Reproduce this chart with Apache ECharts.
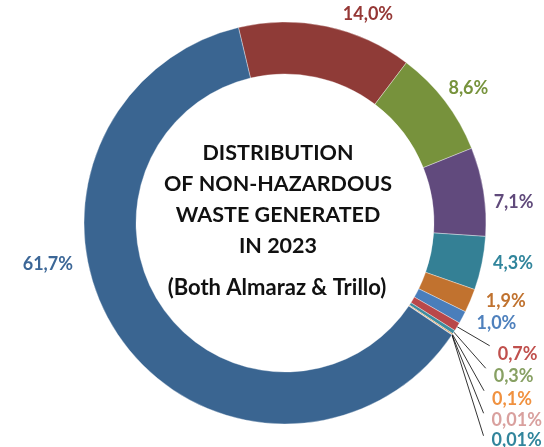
<!DOCTYPE html>
<html>
<head>
<meta charset="utf-8">
<script src="https://cdn.jsdelivr.net/npm/echarts@6/dist/echarts.min.js"></script>
<style>
  html, body { margin: 0; padding: 0; background: #fff; }
  #main { width: 544px; height: 447px; }
</style>
</head>
<body>
<div id="main"></div>
<script>
// shares in %, clockwise starting with the red slice at the top
const categories = ['Type 1', 'Type 2', 'Type 3', 'Type 4', 'Type 5', 'Type 6',
  'Type 7', 'Type 8', 'Type 9', 'Type 10', 'Type 11', 'Type 12'];
const values = [14.0, 8.6, 7.1, 4.3, 1.9, 1.0, 0.7, 0.3, 0.1, 0.01, 0.01, 61.7];

const sliceColors = ['#8f3b37', '#77923c', '#614a7d', '#348095', '#c1722f', '#4a7ebb',
  '#b9484a', '#3d8da0', '#e08a3c', '#d79896', '#348095', '#3a6591'];
const labelColors = ['#953735', '#77933c', '#604a7b', '#31859c', '#c0722f', '#4f81bd',
  '#c0504d', '#87a063', '#f0913f', '#d9a09e', '#31859c', '#3c6797'];

// label line tuning per slice: [length, length2, line shown, label gap, vertical nudge]
const leader = [[12, 9, false, 5, 0], [21, -9, false, 5, 0], [2, 8, false, 5, 11],
  [2, 8, false, 5, 0], [2, 9, false, 5, 0], [8, 2, false, 5, 0],
  [38, 0, true, 8, 8], [38, 0, true, 8, 8], [38, 0, true, 8, 8],
  [38, 0, true, 8, 7], [38, 0, true, 8, 4], [0, 0, false, 5, 0]];

const cx = 285, cy = 223, r0 = 149, r1 = 201;

function fmt(v) {
  return (v < 0.1 ? v.toFixed(2) : v.toFixed(1)).replace('.', ',') + '%';
}

const chart = echarts.init(document.getElementById('main'));

chart.setOption({
  animation: false,
  title: [{
    text: 'DISTRIBUTION\nOF NON-HAZARDOUS\nWASTE GENERATED\nIN 2023',
    left: 278,
    top: 138,
    textAlign: 'center',
    padding: 0,
    textStyle: {
      fontFamily: 'Lato',
      fontWeight: 'bold',
      fontSize: 21.5,
      lineHeight: 31,
      color: '#111'
    }
  }, {
    text: '(Both Almaraz & Trillo)',
    left: 277,
    top: 277,
    textAlign: 'center',
    padding: 0,
    textStyle: {
      fontFamily: 'Lato',
      fontWeight: 'bold',
      fontSize: 22,
      color: '#111'
    }
  }],
  series: [{
    type: 'pie',
    center: [cx, cy],
    radius: [r0, r1],
    startAngle: 103.4,
    clockwise: true,
    avoidLabelOverlap: true,
    itemStyle: { borderColor: 'rgba(255,255,255,0.6)', borderWidth: 0.6 },
    label: {
      position: 'outside',
      fontFamily: 'Lato',
      fontWeight: 'bold',
      fontSize: 18,
      lineHeight: 20.5,
      overflow: 'none',
      formatter: p => fmt(p.value)
    },
    labelLine: { lineStyle: { color: '#000', width: 0.8 } },
    labelLayout: p => {
      const i = p.dataIndex;
      if (i === values.length - 1) {
        return { x: cx - r1 - 11, y: cy + 41, align: 'right', verticalAlign: 'middle' };
      }
      return leader[i][4] ? { dy: leader[i][4] } : {};
    },
    emphasis: { disabled: true },
    data: values.map((v, i) => ({
      name: categories[i],
      value: v,
      itemStyle: { color: sliceColors[i] },
      label: {
        color: labelColors[i],
        alignTo: leader[i][2] ? 'labelLine' : 'none',
        distanceToLabelLine: leader[i][3]
      },
      labelLine: {
        show: leader[i][2],
        length: leader[i][0],
        length2: leader[i][1]
      }
    }))
  }]
});
</script>
</body>
</html>
